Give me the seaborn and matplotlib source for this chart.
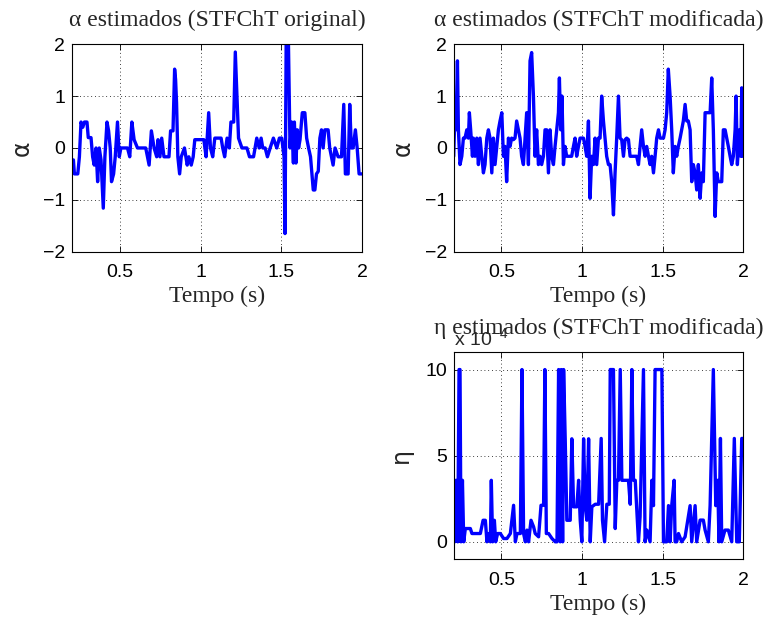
import matplotlib
matplotlib.use("Agg")
import matplotlib.pyplot as plt
import seaborn as sns
import pandas as pd

# ---------------- data ----------------
t_orig = [0.212, 0.218, 0.239, 0.249, 0.259, 0.270, 0.280, 0.296, 0.304, 0.321,
          0.331, 0.341, 0.352, 0.362, 0.372, 0.383, 0.397, 0.407, 0.420, 0.430,
          0.440, 0.448, 0.461, 0.471, 0.485, 0.496, 0.506, 0.547, 0.561, 0.574,
          0.588, 0.609, 0.660, 0.681, 0.695, 0.712, 0.728, 0.736, 0.748, 0.759,
          0.773, 0.804, 0.814, 0.829, 0.839, 0.845, 0.851, 0.859, 0.870, 0.880,
          0.900, 0.917, 0.927, 0.942, 0.954, 0.964, 0.999, 1.020, 1.034, 1.050,
          1.061, 1.075, 1.088, 1.106, 1.127, 1.137, 1.149, 1.164, 1.178, 1.188,
          1.205, 1.215, 1.225, 1.235, 1.256, 1.287, 1.303, 1.328, 1.348, 1.363,
          1.375, 1.385, 1.400, 1.414, 1.431, 1.451, 1.472, 1.488, 1.503, 1.517,
          1.523, 1.531, 1.542, 1.554, 1.564, 1.575, 1.581, 1.591, 1.599, 1.607,
          1.616, 1.630, 1.646, 1.657, 1.669, 1.681, 1.698, 1.708, 1.718, 1.729,
          1.739, 1.749, 1.759, 1.770, 1.790, 1.800, 1.811, 1.821, 1.833, 1.852,
          1.873, 1.887, 1.897, 1.914, 1.924, 1.934, 1.945, 1.959, 1.970, 1.982,
          1.998]
alpha_orig = [-0.23, -0.5, -0.5, -0.17, 0.5, 0.4, 0.5, 0.5, 0.2, 0.2,
              -0.17, -0.33, 0.0, -0.65, 0.0, -0.23, -1.16, -0.17, 0.5, 0.33,
              0.0, -0.65, -0.5, -0.17, 0.5, -0.17, 0.0, 0.0, -0.17, 0.5,
              0.16, 0.0, 0.0, -0.33, 0.33, 0.0, -0.17, 0.16, -0.17, 0.19,
              -0.17, -0.17, 0.33, 0.33, 1.52, 1.32, 0.87, -0.17, -0.5, -0.17,
              0.0, -0.33, -0.17, -0.33, -0.17, 0.16, 0.16, 0.16, -0.17, 0.68,
              0.0, -0.17, 0.19, 0.19, 0.19, 0.0, -0.17, 0.19, 0.0, 0.5,
              0.5, 1.85, 1.0, 0.19, 0.0, 0.0, -0.17, -0.17, 0.19, 0.0,
              0.19, 0.0, 0.0, -0.17, 0.0, 0.19, 0.0, 0.19, 0.19, -0.17,
              -1.65, 2.5, 2.5, 0.0, 0.5, -0.29, 0.5, -0.29, 0.35, 0.0,
              0.16, 0.68, 0.68, 0.19, 0.0, -0.17, -0.81, -0.81, -0.5, -0.45,
              0.19, 0.35, 0.0, 0.35, 0.35, 0.0, -0.17, -0.33, 0.0, -0.17,
              -0.17, 0.84, -0.5, -0.5, 0.84, 0.0, 0.0, 0.35, 0.0, -0.5,
              -0.5]

t_mod = [0.205, 0.211, 0.219, 0.228, 0.234, 0.244, 0.255, 0.265, 0.275, 0.286,
         0.296, 0.302, 0.310, 0.321, 0.327, 0.337, 0.348, 0.358, 0.368, 0.379,
         0.389, 0.399, 0.410, 0.420, 0.430, 0.441, 0.451, 0.461, 0.472, 0.482,
         0.492, 0.503, 0.513, 0.523, 0.533, 0.544, 0.554, 0.564, 0.575, 0.585,
         0.595, 0.606, 0.616, 0.626, 0.637, 0.647, 0.657, 0.668, 0.678, 0.688,
         0.699, 0.709, 0.719, 0.730, 0.740, 0.750, 0.761, 0.771, 0.781, 0.792,
         0.802, 0.812, 0.823, 0.833, 0.843, 0.854, 0.860, 0.868, 0.876, 0.885,
         0.895, 0.905, 0.926, 0.936, 0.947, 0.957, 0.967, 0.978, 0.988, 1.009,
         1.019, 1.029, 1.040, 1.050, 1.060, 1.071, 1.081, 1.091, 1.102, 1.112,
         1.122, 1.133, 1.143, 1.153, 1.164, 1.174, 1.184, 1.195, 1.205, 1.215,
         1.226, 1.236, 1.246, 1.257, 1.267, 1.277, 1.288, 1.298, 1.319, 1.339,
         1.350, 1.360, 1.370, 1.381, 1.391, 1.401, 1.412, 1.422, 1.432, 1.443,
         1.453, 1.463, 1.474, 1.484, 1.494, 1.505, 1.515, 1.525, 1.535, 1.546,
         1.556, 1.566, 1.577, 1.587, 1.597, 1.608, 1.618, 1.628, 1.639, 1.649,
         1.659, 1.670, 1.680, 1.690, 1.701, 1.711, 1.721, 1.732, 1.742, 1.752,
         1.763, 1.773, 1.783, 1.794, 1.804, 1.814, 1.825, 1.835, 1.845, 1.856,
         1.866, 1.876, 1.887, 1.897, 1.907, 1.918, 1.928, 1.938, 1.949, 1.955,
         1.963, 1.976, 1.984, 1.990, 1.996]
alpha_mod = [-0.16, 0.52, 0.35, 1.68, 0.35, -0.32, -0.16, 0.19, 0.19, 0.35,
             0.19, 0.68, 0.35, -0.16, 0.19, -0.16, 0.19, -0.32, 0.19, -0.16,
             -0.48, -0.32, 0.19, 0.35, 0.19, -0.48, 0.19, -0.32, 0.03, 0.35,
             0.52, 0.68, -0.16, 0.03, -0.65, 0.19, 0.03, 0.19, 0.16, 0.19,
             0.52, 0.35, 0.19, -0.16, -0.32, 0.19, 0.68, -0.32, 1.68, 1.84,
             1.0, -0.16, 0.35, -0.32, -0.16, -0.32, -0.16, 0.35, 0.35, -0.48,
             0.35, -0.16, -0.32, 0.03, 0.35, 0.68, 1.35, 0.35, 1.0, -0.32,
             0.03, -0.16, -0.16, -0.16, 0.03, 0.19, -0.16, 0.03, 0.19, 0.19,
             0.03, -0.16, 0.52, -0.97, -0.16, -0.32, 0.19, -0.32, 0.19, 0.19,
             1.0, 0.52, 0.19, -0.16, -0.32, -0.32, -0.65, -1.29, -0.48, 0.19,
             1.0, 0.19, 0.16, -0.16, 0.16, 0.19, 0.16, -0.16, -0.16, -0.16,
             -0.32, 0.03, 0.35, 0.03, -0.16, 0.03, -0.16, -0.32, -0.16, -0.48,
             -0.16, 0.19, 0.35, 0.19, 0.19, 0.19, 0.35, 0.68, 1.52, 1.0,
             0.35, -0.48, 0.03, -0.16, 0.03, 0.19, 0.35, 0.52, 0.84, 0.52,
             0.52, 0.35, -0.65, -0.32, -0.48, -0.81, -0.32, -0.97, -0.48, -0.65,
             0.68, 0.68, 0.68, 0.68, 1.35, 0.35, -1.32, -0.48, -0.65, -0.65,
             -0.65, 0.35, 0.35, 0.19, 0.03, -0.16, -0.32, -0.16, 0.35, 1.0,
             -0.32, 0.35, -0.16, 1.16, -0.16]

t_eta = [0.205, 0.211, 0.219, 0.230, 0.238, 0.244, 0.250, 0.259, 0.267, 0.277,
         0.288, 0.308, 0.318, 0.349, 0.370, 0.387, 0.401, 0.411, 0.422, 0.432,
         0.438, 0.446, 0.457, 0.465, 0.477, 0.494, 0.514, 0.535, 0.556, 0.576,
         0.587, 0.597, 0.618, 0.628, 0.638, 0.649, 0.659, 0.669, 0.684, 0.700,
         0.710, 0.731, 0.746, 0.762, 0.770, 0.779, 0.793, 0.814, 0.834, 0.845,
         0.855, 0.865, 0.871, 0.880, 0.886, 0.896, 0.906, 0.927, 0.937, 0.948,
         0.968, 0.979, 0.989, 0.999, 1.010, 1.020, 1.030, 1.041, 1.051, 1.061,
         1.082, 1.103, 1.119, 1.127, 1.140, 1.154, 1.169, 1.175, 1.195, 1.206,
         1.216, 1.226, 1.237, 1.247, 1.278, 1.288, 1.299, 1.309, 1.319, 1.330,
         1.350, 1.360, 1.381, 1.391, 1.402, 1.422, 1.433, 1.443, 1.453, 1.484,
         1.495, 1.505, 1.525, 1.536, 1.546, 1.556, 1.571, 1.577, 1.587, 1.598,
         1.618, 1.639, 1.670, 1.680, 1.701, 1.711, 1.732, 1.752, 1.763, 1.783,
         1.794, 1.814, 1.829, 1.841, 1.849, 1.858, 1.866, 1.886, 1.907, 1.928,
         1.944, 1.959, 1.975, 1.990, 2.000]
eta_mod = [3.57, 0.0, 3.57, 0.0, 10.0, 10.0, 0.0, 3.57, 0.0, 0.77,
           0.77, 0.77, 0.48, 0.48, 0.48, 1.25, 1.25, 0.0, 0.48, 0.0,
           3.57, 0.0, 1.25, 0.0, 0.48, 0.48, 0.19, 0.19, 0.48, 2.12,
           0.0, 0.48, 0.48, 10.0, 0.48, 0.0, 0.68, 0.0, 1.25, 0.87,
           0.48, 0.29, 2.12, 2.12, 10.0, 0.48, 0.48, 0.19, 0.0, 0.0,
           10.0, 0.0, 10.0, 0.0, 10.0, 5.98, 1.25, 1.25, 5.98, 2.03,
           2.03, 3.57, 1.25, 0.0, 5.98, 2.03, 1.25, 5.98, 0.0, 2.03,
           2.18, 2.18, 6.0, 1.25, 0.0, 2.18, 2.18, 10.0, 10.0, 0.77,
           3.57, 3.57, 10.0, 3.57, 3.57, 3.57, 2.18, 10.0, 3.57, 3.57,
           0.0, 1.45, 10.0, 0.0, 0.68, 0.0, 3.57, 2.1, 10.0, 10.0,
           10.0, 0.0, 0.0, 2.1, 0.0, 2.1, 3.57, 0.0, 0.0, 0.48,
           0.0, 0.29, 2.1, 0.0, 2.1, 0.0, 1.26, 1.26, 0.68, 0.0,
           2.1, 10.0, 2.1, 3.57, 0.0, 6.0, 0.0, 0.68, 0.68, 0.0,
           6.0, 0.0, 0.0, 6.0, 6.0]

xticks = [0.5, 1, 1.5, 2]
xticklabels = ["0.5", "1", "1.5", "2"]
alpha_yticks = [-2, -1, 0, 1, 2]
alpha_yticklabels = ["\u22122", "\u22121", "0", "1", "2"]
eta_yticks = [0, 5, 10]
eta_yticklabels = ["0", "5", "10"]
titles = ["\u03b1 estimados (STFChT original)",
          "\u03b1 estimados (STFChT modificada)",
          "\u03b7 estimados (STFChT modificada)"]
xlabel = "Tempo (s)"

# ---------------- style ----------------
sns.set_theme(style="white")
plt.rcParams["font.family"] = ["Liberation Sans", "DejaVu Sans"]
plt.rcParams["mathtext.fontset"] = "custom"
plt.rcParams["mathtext.rm"] = "Liberation Sans"

fig = plt.figure(figsize=(7.74, 6.19), dpi=100)
fig.patch.set_facecolor("white")

SERIF = ["Liberation Serif", "DejaVu Serif"]
XMIN, XMAX = 0.205, 2.0
ax1 = fig.add_axes([0.0934, 0.5934, 0.3743, 0.3351])
ax2 = fig.add_axes([0.5862, 0.5934, 0.3742, 0.3351])
ax3 = fig.add_axes([0.5862, 0.0969, 0.3742, 0.3339])

series = [(ax1, t_orig, alpha_orig), (ax2, t_mod, alpha_mod), (ax3, t_eta, eta_mod)]
for i, (ax, t, v) in enumerate(series):
    df = pd.DataFrame({"t": t, "v": v})
    sns.lineplot(data=df, x="t", y="v", ax=ax, color=(0, 0, 1), lw=2.4,
                 estimator=None, sort=False)
    ax.set_xlim(XMIN, XMAX)
    ax.set_xticks(xticks)
    ax.set_xticklabels(xticklabels)
    ax.grid(True, color="black", linestyle=(0, (1, 3.5)), linewidth=0.6)
    for s in ax.spines.values():
        s.set_visible(True)
        s.set_color("black")
        s.set_linewidth(0.8)
    ax.tick_params(direction="in", length=4, width=0.6, top=True, right=True,
                   bottom=True, left=True, labelsize=14, colors="black")
    ax.tick_params(axis="x", pad=9)
    ax.tick_params(axis="y", pad=5)
    ax.set_title(titles[i], fontsize=17, family=SERIF, pad=13)
    ax.set_xlabel(xlabel, fontsize=17, family=SERIF, labelpad=3.5)
    ax.set_facecolor("white")

for ax in (ax1, ax2):
    ax.set_ylim(-2, 2)
    ax.set_yticks(alpha_yticks)
    ax.set_yticklabels(alpha_yticklabels)
    ax.set_ylabel("\u03b1", fontsize=17, family=["DejaVu Sans"], labelpad=7)

ax3.set_ylim(-1, 11)
ax3.set_yticks(eta_yticks)
ax3.set_yticklabels(eta_yticklabels)
ax3.set_ylabel("\u03b7", fontsize=17, family=["DejaVu Sans"], labelpad=9)
ax3.text(0.0, 1.01, "x 10$^{-4}$", transform=ax3.transAxes, fontsize=14,
         ha="left", va="bottom", zorder=0)

fig.savefig("out.png", dpi=100, facecolor="white")
